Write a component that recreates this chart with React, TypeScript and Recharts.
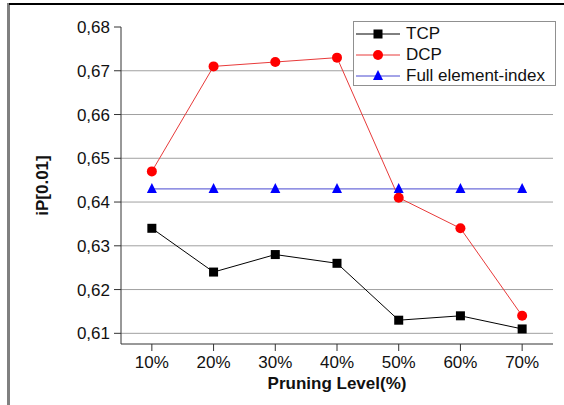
import React from "react";
import { CartesianGrid, Label, Line, LineChart, XAxis, YAxis } from "recharts";

const levels = [10, 20, 30, 40, 50, 60, 70];
const tcp = [0.634, 0.624, 0.628, 0.626, 0.613, 0.614, 0.611];
const dcp = [0.647, 0.671, 0.672, 0.673, 0.641, 0.634, 0.614];
const fullIndex = [0.643, 0.643, 0.643, 0.643, 0.643, 0.643, 0.643];
const yTicks = [0.61, 0.62, 0.63, 0.64, 0.65, 0.66, 0.67, 0.68];
const gridValues = [0.61, 0.62, 0.63, 0.64, 0.65, 0.66, 0.67];
const seriesNames = ["TCP", "DCP", "Full element-index"];

const data = levels.map((level, i) => ({
  level,
  tcp: tcp[i],
  dcp: dcp[i],
  full: fullIndex[i]
}));

const FONT = '"Liberation Sans", Arial, sans-serif';

const squareDot = (p: any) => (
  <rect key={`sq-${p.index}`} x={p.cx - 4.5} y={p.cy - 4.5} width={9} height={9} fill="#000" />
);

const triangleDot = (p: any) => (
  <polygon
    key={`tri-${p.index}`}
    points={`${p.cx},${p.cy - 6} ${p.cx - 5},${p.cy + 4} ${p.cx + 5},${p.cy + 4}`}
    fill="#0000ff"
  />
);

function LegendIcon({ idx }: { idx: number }) {
  const lineColor = ["#000", "#e83a3a", "#4848d0"][idx];
  return (
    <svg width={44} height={12} style={{ display: "block" }}>
      <line x1={0} y1={6} x2={44} y2={6} stroke={lineColor} strokeWidth={1} />
      {idx === 0 && <rect x={17.5} y={1.5} width={9} height={9} fill="#000" />}
      {idx === 1 && <circle cx={22} cy={6} r={5} fill="#ff0000" />}
      {idx === 2 && <polygon points="22,0 17,10 27,10" fill="#0000ff" />}
    </svg>
  );
}

export default function App() {
  return (
    <div style={{ position: "absolute", left: 0, top: 0, width: 564, height: 405, background: "#fff", overflow: "hidden" }}>
      <div style={{ position: "absolute", left: 7, top: 3, width: 3, height: 402, background: "#808080" }} />
      <div style={{ position: "absolute", left: 9, top: 3, width: 555, height: 2, background: "#000" }} />
      <LineChart width={564} height={405} data={data} margin={{ top: 27, right: 11, left: 0, bottom: 0 }}>
        <CartesianGrid vertical={false} horizontalValues={gridValues} stroke="#a0a0a0" />
        <XAxis
          dataKey="level"
          type="number"
          domain={[5, 75]}
          ticks={levels}
          tickFormatter={(v) => `${v}%`}
          height={61}
          tickSize={7}
          tickMargin={5}
          stroke="#333"
          tick={{ fill: "#111", fontSize: 17, fontFamily: FONT }}
        >
          <Label
            value="Pruning Level(%)"
            position="center"
            dy={8}
            style={{ fontWeight: "bold", fontSize: 17, fontFamily: FONT, fill: "#111" }}
          />
        </XAxis>
        <YAxis
          type="number"
          domain={[0.60756, 0.68]}
          ticks={yTicks}
          allowDataOverflow
          tickFormatter={(v) => Number(v).toFixed(2).replace(".", ",")}
          width={121}
          tickSize={7}
          tickMargin={4}
          stroke="#333"
          tick={{ fill: "#111", fontSize: 17, fontFamily: FONT }}
        >
          <Label
            value="iP[0.01]"
            angle={-90}
            position="center"
            dx={-19}
            style={{ fontWeight: "bold", fontSize: 17, fontFamily: FONT, fill: "#111", textAnchor: "middle" }}
          />
        </YAxis>
        <Line dataKey="full" stroke="#4848d0" strokeWidth={1} dot={triangleDot} isAnimationActive={false} />
        <Line dataKey="tcp" stroke="#000" strokeWidth={1} dot={squareDot} isAnimationActive={false} />
        <Line
          dataKey="dcp"
          stroke="#e83a3a"
          strokeWidth={1}
          dot={{ r: 5, fill: "#ff0000", stroke: "none" }}
          isAnimationActive={false}
        />
      </LineChart>
      <div
        style={{
          position: "absolute",
          left: 353,
          top: 21,
          width: 203,
          height: 65,
          border: "1px solid #909090",
          background: "#fff",
          fontFamily: FONT,
          fontSize: 17,
          color: "#111",
          boxSizing: "border-box",
          paddingTop: 1
        }}
      >
        {seriesNames.map((name, i) => (
          <div key={name} style={{ display: "flex", alignItems: "center", height: 21, marginLeft: 2 }}>
            <LegendIcon idx={i} />
            <span style={{ marginLeft: 6, lineHeight: "21px" }}>{name}</span>
          </div>
        ))}
      </div>
    </div>
  );
}
